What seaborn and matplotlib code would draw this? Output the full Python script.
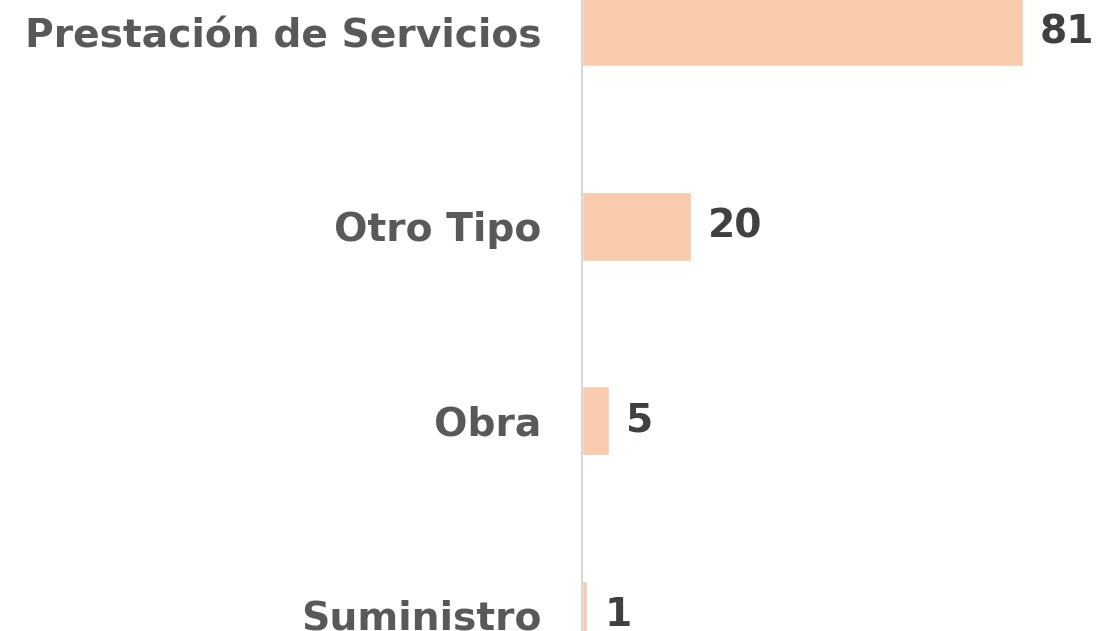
import matplotlib
matplotlib.use("Agg")
import matplotlib.pyplot as plt
import seaborn as sns
import pandas as pd

categories = ["Prestación de Servicios", "Otro Tipo", "Obra", "Suministro"]
values = [81, 20, 5, 1]

df = pd.DataFrame({"tipo": categories, "total": values})

sns.set_style("white")
plt.rcParams["font.family"] = ["DejaVu Sans"]

fig = plt.figure(figsize=(11.07, 6.31), dpi=100)
ax = fig.add_axes([582 / 1107, 0, 1 - 582 / 1107, 1])

sns.barplot(data=df, y="tipo", x="total", color="#f8cbad", saturation=1,
            width=0.354, ax=ax)

ax.set_xlim(0, 96.5)
ax.set_ylim(3 + (631 - 615) / 194.3, -32 / 194.3)

for side in ["top", "right", "bottom"]:
    ax.spines[side].set_visible(False)
ax.spines["left"].set_color("#d9d9d9")
ax.spines["left"].set_linewidth(1.5)

ax.set_xticks([])
ax.set_xlabel("")
ax.set_ylabel("")
ax.tick_params(axis="y", length=0, pad=29, labelsize=28.3, labelcolor="#595959")
for lbl in ax.get_yticklabels():
    lbl.set_fontweight("bold")
    lbl.set_verticalalignment("center_baseline")

for cont in ax.containers:
    ax.bar_label(cont, padding=12, fontsize=28.3, fontweight="bold", color="#404040")

fig.savefig("out.png", dpi=100)
